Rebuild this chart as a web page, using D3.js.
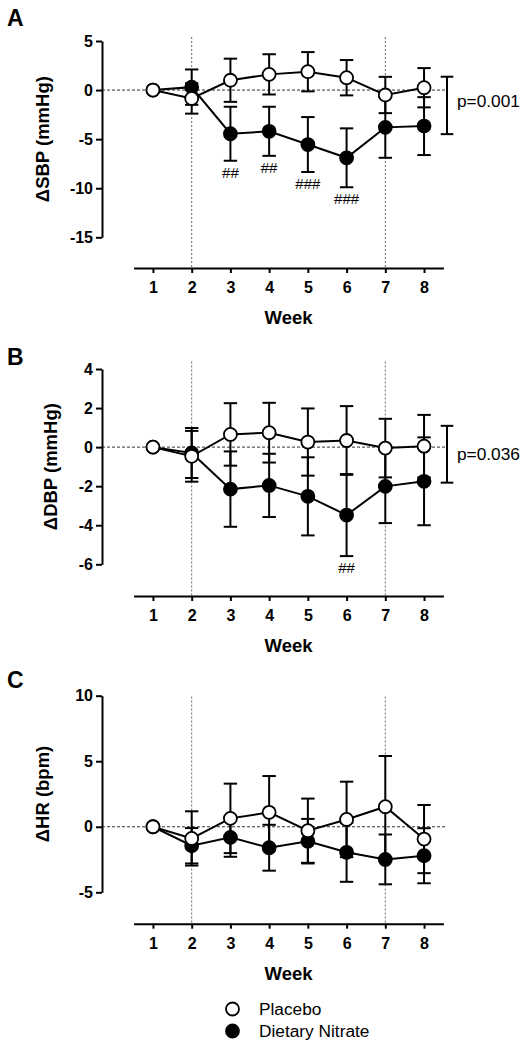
<!DOCTYPE html>
<html>
<head>
<meta charset="utf-8">
<script src="https://cdn.jsdelivr.net/npm/d3@7/dist/d3.min.js"></script>
<style>
  html, body { margin: 0; padding: 0; background: #fff; }
  svg { display: block; }
  text { font-family: "Liberation Sans", Arial, Helvetica, sans-serif; }
</style>
</head>
<body>
<svg id="chart" width="529" height="1048"></svg>
<script>
// ---------- DATA ----------
const weeks = [1, 2, 3, 4, 5, 6, 7, 8];
const weekTickLabels = ["1", "2", "3", "4", "5", "6", "7", "8"];
const seriesNames = ["Placebo", "Dietary Nitrate"];

// Panel A: change in systolic BP (mmHg)
const sbpPlacebo    = [0, -0.85, 1.0, 1.6, 1.87, 1.26, -0.5, 0.24];
const sbpPlaceboErr = [0, 1.55, 2.2, 2.05, 2.0, 1.8, 1.85, 2.0];
const sbpNitrate    = [0, 0.3, -4.45, -4.2, -5.55, -6.9, -3.8, -3.67];
const sbpNitrateErr = [0, 1.8, 2.75, 2.5, 2.8, 3.0, 3.1, 2.95];
const sbpTicks      = [-15, -10, -5, 0, 5];
const sbpMarks      = ["", "", "##", "##", "###", "###", "", ""];
const sbpBracket    = [1.36, -4.49];
const sbpP          = "p=0.001";

// Panel B: change in diastolic BP (mmHg)
const dbpPlacebo    = [0, -0.47, 0.65, 0.74, 0.26, 0.34, -0.05, 0.05];
const dbpPlaceboErr = [0, 1.3, 1.6, 1.53, 1.72, 1.76, 1.5, 1.6];
const dbpNitrate    = [0, -0.3, -2.15, -1.96, -2.52, -3.48, -2.01, -1.75];
const dbpNitrateErr = [0, 1.28, 1.93, 1.62, 2.0, 2.1, 1.88, 2.25];
const dbpTicks      = [-6, -4, -2, 0, 2, 4];
const dbpMarks      = ["", "", "", "", "", "##", "", ""];
const dbpBracket    = [1.09, -1.82];
const dbpP          = "p=0.036";

// Panel C: change in heart rate (bpm)
const hrPlacebo     = [0, -0.89, 0.64, 1.1, -0.3, 0.56, 1.53, -0.94];
const hrPlaceboErr  = [0, 2.07, 2.65, 2.77, 2.45, 2.88, 3.87, 2.6];
const hrNitrate     = [0, -1.45, -0.81, -1.6, -1.1, -1.95, -2.49, -2.21];
const hrNitrateErr  = [0, 1.35, 1.48, 1.75, 1.7, 2.25, 1.9, 2.1];
const hrTicks       = [-5, 0, 5, 10];

const interventionWeeks = [2, 7];

// ---------- LAYOUT ----------
const svg = d3.select("#chart");
svg.append("rect").attr("width", 529).attr("height", 1048).attr("fill", "#fff");

const x = d3.scaleLinear().domain([0.5, 8.5]).range([133.6, 443.4]);
const yAxisX = 102;

const panels = [
  { letter: "A", letterY: 26, title: "\u0394SBP (mmHg)", titleX: 48.5,
    domain: [-15, 5], range: [237.3, 41], axisY: 268, lineTop: 37,
    ticks: sbpTicks, placebo: sbpPlacebo, placeboErr: sbpPlaceboErr,
    nitrate: sbpNitrate, nitrateErr: sbpNitrateErr, marks: sbpMarks,
    bracket: sbpBracket, p: sbpP, pShift: -4.5 },
  { letter: "B", letterY: 365, title: "\u0394DBP (mmHg)", titleX: 57,
    domain: [-6, 4], range: [564.3, 369], axisY: 596, lineTop: 361.5,
    ticks: dbpTicks, placebo: dbpPlacebo, placeboErr: dbpPlaceboErr,
    nitrate: dbpNitrate, nitrateErr: dbpNitrateErr, marks: dbpMarks,
    bracket: dbpBracket, p: dbpP, pShift: 0 },
  { letter: "C", letterY: 688, title: "\u0394HR (bpm)", titleX: 48.5,
    domain: [-5, 10], range: [892.3, 695.7], axisY: 923.7, lineTop: 696.5,
    ticks: hrTicks, placebo: hrPlacebo, placeboErr: hrPlaceboErr,
    nitrate: hrNitrate, nitrateErr: hrNitrateErr, marks: null,
    bracket: null, p: null }
];

const R = 6.5, CAP = 6.7;

panels.forEach(p => {
  const g = svg.append("g");
  const y = d3.scaleLinear().domain(p.domain).range(p.range);

  // panel letter
  g.append("text").attr("x", 7).attr("y", p.letterY)
    .attr("font-size", 23).attr("font-weight", "bold").text(p.letter);

  // reference lines
  interventionWeeks.forEach(w => {
    g.append("line").attr("x1", x(w)).attr("x2", x(w))
      .attr("y1", p.lineTop).attr("y2", p.axisY)
      .attr("stroke", "#666").attr("stroke-width", 1)
      .attr("stroke-dasharray", "2,2");
  });
  g.append("line").attr("x1", yAxisX).attr("x2", 445)
    .attr("y1", y(0)).attr("y2", y(0))
    .attr("stroke", "#333").attr("stroke-width", 1)
    .attr("stroke-dasharray", "3,2");

  // axes
  const yAxis = d3.axisLeft(y).tickValues(p.ticks).tickFormat(d3.format("d"))
    .tickSize(6).tickSizeOuter(0).tickPadding(3);
  const ya = g.append("g").attr("transform", `translate(${yAxisX},0)`).call(yAxis);
  const xAxis = d3.axisBottom(x).tickValues(weeks).tickFormat((d, i) => weekTickLabels[i])
    .tickSize(5).tickSizeOuter(0).tickPadding(9);
  const xa = g.append("g").attr("transform", `translate(0,${p.axisY})`).call(xAxis);
  [ya, xa].forEach(a => {
    a.selectAll("path, line").attr("stroke", "#000").attr("stroke-width", 2);
    a.selectAll("text").attr("font-size", 16).attr("font-weight", "bold")
      .attr("fill", "#000").attr("font-family", "'Liberation Sans', Arial, sans-serif");
  });
  ya.selectAll("text").text(d => d < 0 ? "-" + Math.abs(d) : String(d));

  // axis titles
  const yMid = (p.range[0] + p.range[1]) / 2;
  g.append("text").attr("transform", `translate(${p.titleX},${yMid}) rotate(-90)`)
    .attr("text-anchor", "middle").attr("font-size", 18.5).attr("font-weight", "bold")
    .text(p.title);
  g.append("text").attr("x", x(4.5)).attr("y", p.axisY + 56)
    .attr("text-anchor", "middle").attr("font-size", 18.5).attr("font-weight", "bold")
    .text("Week");

  // series: nitrate first, then placebo on top
  const series = [
    { vals: p.nitrate, err: p.nitrateErr, fill: "#000" },
    { vals: p.placebo, err: p.placeboErr, fill: "#fff" }
  ];
  series.forEach(s => {
    const pts = weeks.map((w, i) => ({ w, v: s.vals[i], e: s.err[i] }));
    g.append("path").datum(pts)
      .attr("d", d3.line().x(d => x(d.w)).y(d => y(d.v)))
      .attr("fill", "none").attr("stroke", "#000").attr("stroke-width", 2);
    const eb = g.append("g");
    pts.filter(d => d.e > 0).forEach(d => {
      const cx = x(d.w), top = y(d.v + d.e), bot = y(d.v - d.e);
      eb.append("line").attr("x1", cx).attr("x2", cx).attr("y1", top).attr("y2", bot)
        .attr("stroke", "#000").attr("stroke-width", 2);
      [top, bot].forEach(yy => eb.append("line")
        .attr("x1", cx - CAP).attr("x2", cx + CAP).attr("y1", yy).attr("y2", yy)
        .attr("stroke", "#000").attr("stroke-width", 2));
    });
    g.selectAll(null).data(pts).enter().append("circle")
      .attr("cx", d => x(d.w)).attr("cy", d => y(d.v)).attr("r", R)
      .attr("fill", s.fill).attr("stroke", "#000").attr("stroke-width", 1.8);
  });

  // significance marks
  if (p.marks) {
    p.marks.forEach((m, i) => {
      if (!m) return;
      g.append("text").attr("x", x(weeks[i])).attr("y", y(p.nitrate[i] - p.nitrateErr[i]) + 17)
        .attr("text-anchor", "middle").attr("font-size", 15).text(m);
    });
  }

  // bracket + p-value
  if (p.bracket) {
    const bx = 447, t = y(p.bracket[0]), b = y(p.bracket[1]);
    g.append("line").attr("x1", bx).attr("x2", bx).attr("y1", t).attr("y2", b)
      .attr("stroke", "#000").attr("stroke-width", 2);
    [t, b].forEach(yy => g.append("line").attr("x1", bx - 6.3).attr("x2", bx + 6.3)
      .attr("y1", yy).attr("y2", yy).attr("stroke", "#000").attr("stroke-width", 2));
    g.append("text").attr("x", 457).attr("y", (t + b) / 2 + p.pShift + 6)
      .attr("font-size", 17.3).text(p.p);
  }
});

// legend
const legend = svg.append("g");
const legendFills = ["#fff", "#000"];
seriesNames.forEach((name, i) => {
  const ly = 1009 + i * 22;
  legend.append("circle").attr("cx", 232.5).attr("cy", ly).attr("r", R)
    .attr("fill", legendFills[i]).attr("stroke", "#000").attr("stroke-width", 1.8);
  legend.append("text").attr("x", 259).attr("y", ly + 6)
    .attr("font-size", 17.3).text(name);
});
</script>
</body>
</html>
